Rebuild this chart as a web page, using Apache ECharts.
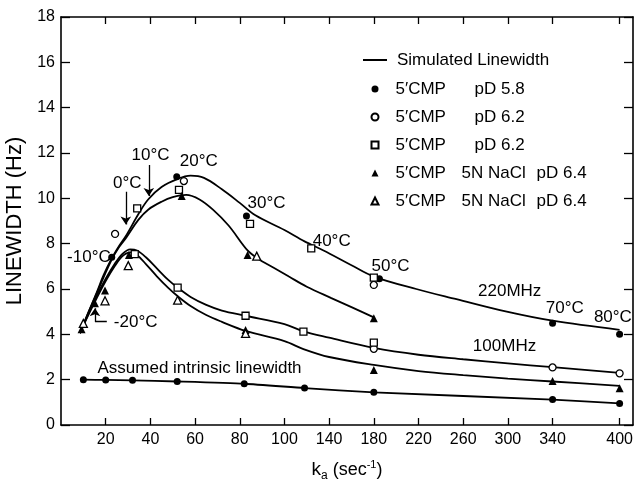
<!DOCTYPE html>
<html><head><meta charset="utf-8">
<script src="https://cdn.jsdelivr.net/npm/echarts@6/dist/echarts.min.js"></script>
<style>html,body{margin:0;padding:0;background:#fff}#c{width:640px;height:481px}</style>
</head><body><div id="c"></div>
<script>
// ---------- data ----------
const xTickValues = [20, 40, 60, 80, 100, 140, 180, 220, 260, 300, 340, 400];
const yTickValues = [0, 2, 4, 6, 8, 10, 12, 14, 16, 18];
const xMaxK = 412;

// simulated linewidth curves [k, linewidth]
const curve220 = [[8.5,4.05],[12,4.9],[16,5.85],[19,6.6],[22.7,7.35],[26,7.9],[29.4,8.4],[34.6,9.3],[39,9.95],[45,10.5],[52,10.85],[58,11.0],[64,10.9],[72,10.4],[80,9.8],[87,9.25],[100,8.6],[118,8.1],[135,7.7],[160,7.05],[180,6.55],[218,6.0],[254,5.55],[299,5.0],[340,4.6],[400,4.2]];
const curve220NaCl = [[8.5,4.05],[12,4.9],[16,5.8],[19,6.5],[22.7,7.3],[26,7.85],[29.4,8.3],[34.6,9.05],[39,9.5],[45,9.85],[50,10.05],[56,10.15],[62,9.95],[68,9.5],[75,8.8],[83.5,7.7],[88,7.35],[95,6.95],[104,6.55],[120,6.1],[142,5.6],[160,5.2],[180,4.75]];
const curve100 = [[8.5,4.05],[12,4.85],[16,5.7],[20,6.45],[24,7.1],[27.5,7.55],[31,7.75],[34,7.7],[38,7.4],[43,6.9],[48,6.4],[52.2,6.06],[58,5.65],[65,5.3],[72,5.05],[82.6,4.82],[100,4.45],[117,4.13],[140,3.85],[180,3.4],[220,3.1],[260,2.9],[300,2.72],[340,2.55],[400,2.3]];
const curve100NaCl = [[8.5,4.05],[12,4.8],[16,5.6],[20,6.35],[24,7.0],[27.5,7.45],[31,7.62],[34,7.5],[38,7.1],[43,6.55],[48,6.05],[52,5.7],[58,5.25],[65,4.85],[72,4.55],[82.6,4.15],[100,3.7],[117,3.35],[140,3.0],[180,2.65],[220,2.38],[260,2.2],[300,2.05],[340,1.92],[400,1.73]];
const intrinsic = [[10,2.0],[20,1.99],[32,1.97],[52,1.92],[82,1.82],[118,1.63],[180,1.44],[340,1.12],[400,0.95]];

// measured points [k, linewidth]
const cmp58 = [[22.7,7.4],[51.8,10.95],[83,9.22],[185,6.45],[340,4.49],[400,4.0]];
const cmp62circle = [[24.2,8.43],[55,10.76],[180,6.18],[180,3.36],[340,2.54],[400,2.28]];
const cmp62square = [[34.1,9.56],[52.8,10.37],[84.6,8.87],[124,7.79],[180,6.5],[33,7.54],[52.2,6.06],[82.6,4.82],[117,4.12],[180,3.63]];
const nacl64filled = [[9.2,4.22],[15.2,5.37],[19.7,5.93],[30.4,7.5],[54,10.1],[83.5,7.5],[180,4.71],[82.6,4.19],[180,2.43],[340,1.94],[400,1.62]];
const nacl64open = [[10,4.48],[19.7,5.48],[30.1,7.03],[52.2,5.51],[87.6,7.45],[82.6,4.04]];

// annotations [k, linewidth] (text centre)
const annoText = ['-10°C','0°C','10°C','20°C','30°C','40°C','50°C','70°C','80°C','220MHz','100MHz','Assumed intrinsic linewidth','-20°C'];
const annoK = [12.5, 29.7, 40.1, 61.7, 92, 142.3, 195, 351, 394, 301.6, 297, 62, 33.4];
const annoV = [7.41, 10.66, 11.91, 11.62, 9.78, 8.09, 6.98, 5.15, 4.73, 5.91, 3.48, 2.5, 4.51];

// arrows with heads, and the plain leader segment of the -20°C arrow ([k, linewidth] pairs)
const arrowSegments = [
  [[29, 10.29], [29, 8.85]],
  [[39.3, 11.47], [39.3, 10.1]],
  [[15.2, 4.56], [15.2, 5.15]]
];
const leaderSegments = [
  [[20.5, 4.56], [15.2, 4.56]]
];

const markerNames = ['cmp58','cmp62c','cmp62s','nacl64f','nacl64o'];
const markerTexts = ['{sp|}{a|5′CMP}{p|pD 5.8}','{sp|}{a|5′CMP}{p|pD 6.2}','{sp|}{a|5′CMP}{p|pD 6.2}','{sp|}{b|5′CMP}{n|5N NaCl}{p|pD 6.4}','{sp|}{b|5′CMP}{n|5N NaCl}{p|pD 6.4}'];

// ---------- broken x scale: 20 units per tick up to 100, 40 units per tick beyond ----------
function tx(k) { return k <= 100 ? k / 20 : 5 + (k - 100) / 40; }
function conv(arr) { return arr.map(p => [tx(p[0]), p[1]]); }

const FONT = 'Liberation Sans';
const BLACK = '#000';
const txt = (size, extra) => Object.assign({fontSize: size, fontFamily: FONT, color: BLACK, lineHeight: 20}, extra || {});

const chart = echarts.init(document.getElementById('c'), null, {renderer: 'canvas'});

const curveStyle = {type: 'line', name: 'Simulated Linewidth', smooth: 0.35, symbol: 'none',
  lineStyle: {color: BLACK, width: 1.8}, itemStyle: {color: BLACK}, z: 3, silent: true};

function scatter(name, data, symbol, filled, size) {
  return {type: 'scatter', name, data: conv(data), symbol, symbolSize: size,
    itemStyle: {color: filled ? BLACK : '#fff', borderColor: BLACK, borderWidth: filled ? 0 : 1.3, opacity: 1},
    z: 5, silent: true};
}

function lineSeries(name, segs, withArrow) {
  return {type: 'lines', name, coordinateSystem: 'cartesian2d', silent: true, z: 6,
    symbol: withArrow ? ['none', 'arrow'] : ['none', 'none'], symbolSize: 8,
    lineStyle: {color: BLACK, width: 1.3, opacity: 1, curveness: 0},
    data: segs.map(a => ({coords: conv(a)}))};
}

const option = {
  animation: false,
  backgroundColor: '#fff',
  textStyle: {fontFamily: FONT, color: BLACK},
  grid: {left: 61, right: 7, top: 17, bottom: 56, containLabel: false, outerBoundsMode: 'none'},
  legend: [{
    orient: 'vertical', left: 358, top: 45, itemWidth: 24, itemHeight: 2, itemGap: 8,
    data: [{name: 'Simulated Linewidth', icon: 'rect'}], selectedMode: false,
    itemStyle: {color: BLACK, borderWidth: 0},
    formatter: '{sp|}{t|Simulated Linewidth}',
    textStyle: txt(17, {rich: {sp: {width: 5}, t: txt(17)}})
  }, {
    orient: 'vertical', left: 365.5, top: 74, itemWidth: 7, itemHeight: 7, itemGap: 8,
    data: markerNames, selectedMode: false,
    formatter: name => markerTexts[markerNames.indexOf(name)],
    textStyle: txt(17, {rich: {
      sp: {width: 12},
      a: txt(17, {width: 79}),
      b: txt(17, {width: 66}),
      n: txt(17, {width: 75}),
      p: txt(17)
    }})
  }],
  xAxis: [{
    type: 'value', min: 0, max: tx(xMaxK), position: 'bottom',
    axisLine: {show: true, onZero: false, lineStyle: {color: BLACK, width: 1.6}},
    axisTick: {show: true, inside: true, length: 7, customValues: xTickValues.map(tx), lineStyle: {color: BLACK, width: 1.3}},
    axisLabel: {show: true, margin: 7, fontSize: 16, fontFamily: FONT, color: BLACK,
      customValues: xTickValues.map(tx),
      formatter: v => { let best = 0; xTickValues.forEach((t, i) => { if (Math.abs(tx(t) - v) < Math.abs(tx(xTickValues[best]) - v)) best = i; }); return String(xTickValues[best]); }},
    splitLine: {show: false},
    name: '{k|k}{s|a}{t| (sec}{u|-1}{t|)}', nameLocation: 'middle', nameGap: 32,
    nameTextStyle: {fontFamily: FONT, fontSize: 18, color: BLACK,
      rich: {
        k: {fontSize: 19, fontFamily: FONT, color: BLACK, lineHeight: 26, verticalAlign: 'middle'},
        s: {fontSize: 12, fontFamily: FONT, color: BLACK, lineHeight: 26, verticalAlign: 'bottom', padding: [0, 0, 1, 0]},
        t: {fontSize: 18, fontFamily: FONT, color: BLACK, lineHeight: 26, verticalAlign: 'middle'},
        u: {fontSize: 11, fontFamily: FONT, color: BLACK, lineHeight: 26, verticalAlign: 'top', padding: [2, 0, 0, 0]}
      }}
  }, {
    type: 'value', min: 0, max: tx(xMaxK), position: 'top',
    axisLine: {show: true, onZero: false, lineStyle: {color: BLACK, width: 1.6}},
    axisTick: {show: true, inside: true, length: 7, customValues: xTickValues.map(tx), lineStyle: {color: BLACK, width: 1.3}},
    axisLabel: {show: false}, splitLine: {show: false}
  }],
  yAxis: [{
    type: 'value', min: 0, max: 18, interval: 2, position: 'left',
    axisLine: {show: true, onZero: false, lineStyle: {color: BLACK, width: 1.6}},
    axisTick: {show: true, inside: true, length: 9, lineStyle: {color: BLACK, width: 1.3}},
    axisLabel: {show: true, margin: 6, fontSize: 16, fontFamily: FONT, color: BLACK,
      formatter: v => yTickValues.includes(v) ? String(v) : ''},
    splitLine: {show: false},
    name: 'LINEWIDTH (Hz)', nameLocation: 'middle', nameGap: 27,
    nameTextStyle: {fontFamily: FONT, fontSize: 22, color: BLACK}
  }, {
    type: 'value', min: 0, max: 18, interval: 2, position: 'right',
    axisLine: {show: true, onZero: false, lineStyle: {color: BLACK, width: 1.6}},
    axisTick: {show: true, inside: true, length: 9, lineStyle: {color: BLACK, width: 1.3}},
    axisLabel: {show: false}, splitLine: {show: false}
  }],
  series: [
    Object.assign({}, curveStyle, {data: conv(curve220)}),
    Object.assign({}, curveStyle, {data: conv(curve220NaCl)}),
    Object.assign({}, curveStyle, {data: conv(curve100)}),
    Object.assign({}, curveStyle, {data: conv(curve100NaCl)}),
    {type: 'line', name: 'Assumed intrinsic linewidth', data: conv(intrinsic), smooth: 0.2,
      symbol: 'circle', symbolSize: 7, showSymbol: true,
      lineStyle: {color: BLACK, width: 1.8}, itemStyle: {color: BLACK}, z: 4, silent: true},
    scatter('cmp58', cmp58, 'circle', true, 7),
    scatter('cmp62c', cmp62circle, 'circle', false, 7),
    scatter('cmp62s', cmp62square, 'rect', false, 7),
    scatter('nacl64f', nacl64filled, 'triangle', true, 8),
    scatter('nacl64o', nacl64open, 'triangle', false, 8),
    {type: 'scatter', name: 'annotations', symbol: 'circle', symbolSize: 0, silent: true, z: 6,
      itemStyle: {color: BLACK},
      data: annoText.map((t, i) => ({name: t, value: [tx(annoK[i]), annoV[i]]})),
      label: {show: true, position: 'inside', formatter: p => p.name, color: BLACK,
        textBorderWidth: 0, textBorderColor: 'transparent', opacity: 1,
        fontFamily: FONT, fontSize: 17}},
    lineSeries('arrows', arrowSegments, true),
    lineSeries('leaders', leaderSegments, false)
  ]
};
chart.setOption(option);
</script>
</body></html>
